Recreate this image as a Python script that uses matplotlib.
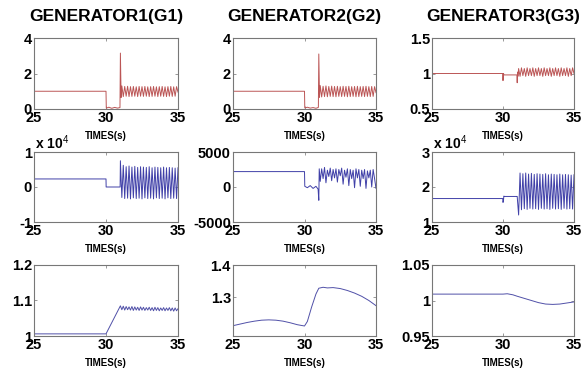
import matplotlib
matplotlib.use("Agg")
import matplotlib.pyplot as plt

plt.rcParams['font.family'] = ['Liberation Sans', 'DejaVu Sans']
plt.rcParams['mathtext.fontset'] = 'custom'
plt.rcParams['mathtext.rm'] = 'Liberation Sans'

titles = ["GENERATOR1(G1)", "GENERATOR2(G2)", "GENERATOR3(G3)"]
xlabel = "TIMES(s)"
x_ticks = [25, 30, 35]
x_ticklabels = ["25", "30", "35"]

osc_t = [31.1, 31.2, 31.3, 31.4, 31.5, 31.6, 31.7, 31.8, 31.9, 32.0,
         32.1, 32.2, 32.3, 32.4, 32.5, 32.6, 32.7, 32.8, 32.9, 33.0,
         33.1, 33.2, 33.3, 33.4, 33.5, 33.6, 33.7, 33.8, 33.9, 34.0,
         34.1, 34.2, 34.3, 34.4, 34.5, 34.6, 34.7, 34.8, 34.9, 35.0]

# Row 1: power (red)
g1_p_t = [25.0, 30.0, 30.02, 30.2, 30.4, 30.6, 30.8, 30.97, 31.0, 31.05] + osc_t
g1_p_v = [1.0, 1.0, 0.05, 0.1, 0.04, 0.09, 0.05, 0.08, 3.15, 0.65] + [
    1.30, 0.70, 1.27, 0.72, 1.28, 0.70, 1.26, 0.71, 1.27, 0.72,
    1.25, 0.70, 1.27, 0.72, 1.26, 0.71, 1.27, 0.72, 1.25, 0.70,
    1.26, 0.71, 1.27, 0.72, 1.25, 0.70, 1.26, 0.72, 1.27, 0.71,
    1.25, 0.70, 1.26, 0.72, 1.27, 0.71, 1.25, 0.72, 1.26, 0.95]
g2_p_t = [25.0, 30.0, 30.02, 30.2, 30.4, 30.6, 30.8, 30.97, 31.0, 31.05] + osc_t
g2_p_v = [1.0, 1.0, 0.06, 0.1, 0.05, 0.08, 0.04, 0.09, 3.1, 0.66] + [
    1.32, 0.68, 1.28, 0.70, 1.30, 0.69, 1.27, 0.71, 1.29, 0.70,
    1.27, 0.69, 1.28, 0.71, 1.26, 0.70, 1.28, 0.71, 1.27, 0.69,
    1.28, 0.70, 1.26, 0.71, 1.27, 0.69, 1.28, 0.70, 1.26, 0.71,
    1.27, 0.70, 1.28, 0.71, 1.26, 0.70, 1.27, 0.71, 1.26, 0.92]
g3_p_t = [25.0, 29.98, 30.0, 30.03, 30.08, 30.98, 31.0, 31.03, 31.05] + osc_t
g3_p_v = [1.0, 1.0, 0.9, 1.0, 0.98, 0.98, 0.87, 1.02, 0.96] + [
    1.07, 0.96, 1.08, 0.97, 1.07, 0.96, 1.08, 0.97, 1.07, 0.97,
    1.08, 0.96, 1.07, 0.97, 1.08, 0.97, 1.07, 0.96, 1.08, 0.97,
    1.07, 0.97, 1.08, 0.96, 1.07, 0.97, 1.08, 0.97, 1.07, 0.96,
    1.08, 0.97, 1.07, 0.97, 1.08, 0.96, 1.07, 0.97, 1.08, 1.0]

# Row 2: reactive quantity (blue)
g1_q_t = [25.0, 30.0, 30.01, 30.98, 31.0] + osc_t
g1_q_v = [2300, 2300, 0, 0, 7500] + [
    -3000, 6200, -3300, 5800, -3200, 6000, -3400, 5700, -3100, 5900,
    -3300, 5600, -3200, 5800, -3400, 5700, -3100, 5600, -3300, 5800,
    -3200, 5500, -3400, 5700, -3100, 5600, -3300, 5500, -3200, 5700,
    -3400, 5500, -3100, 5600, -3300, 5500, -3200, 5400, -3300, 5500]
g2_q_t = [25.0, 30.0, 30.02, 30.2, 30.4, 30.6, 30.8, 30.95, 31.0, 31.03] + osc_t
g2_q_v = [2200, 2200, 100, -100, 200, -200, 100, -300, -1900, 2600] + [
    800, 2600, 1200, 2800, 600, 2400, 1500, 2700, 900, 2500,
    1300, 2600, 700, 2500, 1600, 2700, 400, 2400, 1400, 2600,
    200, 2500, 1200, 2400, -100, 2600, 1300, 2500, 100, 2400,
    1200, 2500, -200, 2300, 1300, 2400, 0, 2500, 1200, -200]
g3_q_t = [25.0, 29.98, 30.0, 30.03, 30.06, 30.1, 30.98, 31.0] + osc_t
g3_q_v = [16700, 16700, 15600, 16000, 17400, 17300, 17300, 17300] + [
    12000, 24000, 13500, 23800, 13800, 24000, 13600, 23700, 13900, 23900,
    13700, 23600, 13800, 23800, 13600, 23700, 13900, 23600, 13700, 23800,
    13800, 23500, 13600, 23700, 13900, 23600, 13700, 23500, 13800, 23700,
    13600, 23500, 13900, 23600, 13700, 23500, 13800, 23400, 13700, 23500]

# Row 3: voltage-like quantity (blue)
g1_v_t = [25.0, 30.0, 31.0] + osc_t
g1_v_v = [1.006, 1.006, 1.085] + [
    1.074, 1.084, 1.073, 1.083, 1.074, 1.082, 1.073, 1.083, 1.072, 1.082,
    1.073, 1.081, 1.072, 1.082, 1.073, 1.081, 1.072, 1.080, 1.073, 1.081,
    1.072, 1.080, 1.071, 1.081, 1.072, 1.080, 1.071, 1.079, 1.072, 1.080,
    1.071, 1.079, 1.072, 1.080, 1.071, 1.079, 1.070, 1.079, 1.071, 1.077]
g2_v_t = [25, 25.5, 26, 26.5, 27, 27.5, 28, 28.5, 29, 29.5, 30, 30.2, 30.5, 30.8,
          31, 31.3, 31.6, 32, 32.5, 33, 33.5, 34, 34.5, 35]
g2_v_v = [1.212, 1.217, 1.222, 1.226, 1.229, 1.230, 1.229, 1.226, 1.221, 1.215, 1.211,
          1.225, 1.270, 1.310, 1.328, 1.331, 1.329, 1.330, 1.327, 1.321, 1.313,
          1.303, 1.290, 1.274]
g3_v_t = [25, 30, 30.3, 30.7, 31, 31.5, 32, 32.5, 33, 33.5, 34, 34.5, 35]
g3_v_v = [1.009, 1.009, 1.0095, 1.008, 1.006, 1.003, 1.0, 0.997, 0.995, 0.9945,
          0.995, 0.9965, 0.998]

series = [
    [(g1_p_t, g1_p_v), (g2_p_t, g2_p_v), (g3_p_t, g3_p_v)],
    [(g1_q_t, g1_q_v), (g2_q_t, g2_q_v), (g3_q_t, g3_q_v)],
    [(g1_v_t, g1_v_v), (g2_v_t, g2_v_v), (g3_v_t, g3_v_v)],
]
ylims = [
    [(0, 4), (0, 4), (0.5, 1.5)],
    [(-10000, 10000), (-5000, 5000), (10000, 30000)],
    [(1.0, 1.2), (1.18, 1.4), (0.95, 1.05)],
]
yticks = [
    [[0, 2, 4], [0, 2, 4], [0.5, 1.0, 1.5]],
    [[-10000, 0, 10000], [-5000, 0, 5000], [10000, 20000, 30000]],
    [[1.0, 1.1, 1.2], [1.3, 1.4], [0.95, 1.0, 1.05]],
]
yticklabels = [
    [["0", "2", "4"], ["0", "2", "4"], ["0.5", "1", "1.5"]],
    [["-1", "0", "1"], ["-5000", "0", "5000"], ["1", "2", "3"]],
    [["1", "1.1", "1.2"], ["1.3", "1.4"], ["0.95", "1", "1.05"]],
]
offset_labels = [
    [None, None, None],
    ["x 10$^{4}$", None, "x 10$^{4}$"],
    [None, None, None],
]
row_colors = ["#bb5555", "#4040a8", "#5050a8"]

W, H = 581, 371
fig = plt.figure(figsize=(W / 100, H / 100), dpi=100)
col_l = [34, 233, 432]
col_r = [178, 376, 574]
row_t = [38, 152, 265]
row_b = [109, 222, 336]

for r in range(3):
    for c in range(3):
        x0 = col_l[c] / W
        w = (col_r[c] - col_l[c]) / W
        y0 = 1 - row_b[r] / H
        h = (row_b[r] - row_t[r]) / H
        ax = fig.add_axes([x0, y0, w, h])
        t, v = series[r][c]
        ax.plot(t, v, color=row_colors[r], lw=0.7)
        ax.set_xlim(25, 35)
        ax.set_ylim(*ylims[r][c])
        ax.set_xticks(x_ticks)
        ax.set_xticklabels(x_ticklabels)
        ax.set_yticks(yticks[r][c])
        ax.set_yticklabels(yticklabels[r][c])
        ax.tick_params(direction='in', length=2.5, width=0.6, color='#888888',
                       top=True, right=True, labelsize=10.5, pad=1.5)
        for lab in ax.get_xticklabels() + ax.get_yticklabels():
            lab.set_fontweight('bold')
        for sp in ax.spines.values():
            sp.set_color('#777777')
            sp.set_linewidth(0.8)
        ax.set_xlabel(xlabel, fontsize=7, fontweight='bold', va='center')
        ax.xaxis.set_label_coords(0.5, -27 / (row_b[r] - row_t[r]))
        if r == 0:
            ax.set_title(titles[c], fontsize=12.5, fontweight='bold', pad=12)
        if offset_labels[r][c]:
            ax.text(0.01, 1 + 9 / (row_b[r] - row_t[r]), offset_labels[r][c],
                    transform=ax.transAxes, fontsize=10, fontweight='bold',
                    va='center', ha='left')

fig.savefig("out.png", dpi=100)
